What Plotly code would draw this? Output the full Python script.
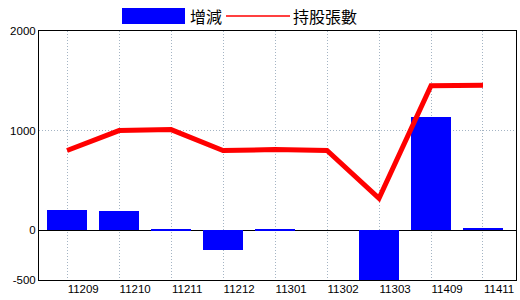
import plotly.graph_objects as go

categories = ["11209", "11210", "11211", "11212", "11301", "11302", "11303", "11409", "11411"]
change = [205, 195, 15, -200, 15, 0, -500, 1140, 25]
holdings = [800, 1000, 1010, 800, 810, 800, 320, 1450, 1455]
y_ticks = [-500, 0, 1000, 2000]

idx = list(range(len(categories)))

# plot area in pixels
L, R, T, B = 39, 516, 31, 280
W, H = 520, 300


def px(x):
    return (x - L) / (R - L)


def py(y):
    return (B - y) / (B - T)


fig = go.Figure()
fig.add_trace(go.Bar(x=idx, y=change, width=0.77, marker=dict(color="#0000FF", line=dict(width=0)),
                     name="增減", showlegend=False))
fig.add_trace(go.Scatter(x=idx, y=holdings, mode="lines", line=dict(color="#FF0000", width=5),
                         name="持股張數", showlegend=False))
# invisible trace to anchor xaxis2 (label axis)
fig.add_trace(go.Scatter(x=[idx[0]], y=[0], xaxis="x2", mode="markers", marker=dict(opacity=0),
                         showlegend=False, hoverinfo="skip"))

grid = "#a4b4c4"
xr = [-0.54, 8.635]
fig.update_layout(
    width=W, height=H,
    margin=dict(l=L, r=W - R, t=T, b=H - B),
    paper_bgcolor="white", plot_bgcolor="white",
    font=dict(family="Liberation Sans, Arial", size=11, color="black"),
    bargap=0,
    xaxis=dict(range=xr, tickvals=idx, showticklabels=False, ticks="",
               showgrid=True, gridcolor=grid, griddash="1px,2px", gridwidth=1,
               showline=True, linecolor="black", linewidth=1, mirror=True, zeroline=False),
    xaxis2=dict(range=xr, overlaying="x", side="bottom", tickvals=[i + 0.31 for i in idx],
                ticktext=categories, showgrid=False, zeroline=False, showline=False, ticks="",
                tickfont=dict(size=11.5, color="black")),
    yaxis=dict(range=[-500, 2000], tickvals=y_ticks, ticktext=[str(v) for v in y_ticks],
               showgrid=True, gridcolor=grid, griddash="1px,2px", gridwidth=1,
               zeroline=True, zerolinecolor="black", zerolinewidth=1,
               showline=True, linecolor="black", linewidth=1, mirror=True, ticks="",
               tickfont=dict(size=11.5, color="black")),
)

# manual legend
fig.add_shape(type="rect", xref="paper", yref="paper", x0=px(122), x1=px(185), y0=py(24), y1=py(8),
              fillcolor="#0000FF", line=dict(width=0))
fig.add_annotation(xref="paper", yref="paper", x=px(188), y=py(16), text="增減", showarrow=False,
                   xanchor="left", yanchor="middle", font=dict(family="Noto Sans CJK TC", size=16, color="black"))
fig.add_shape(type="line", xref="paper", yref="paper", x0=px(226), x1=px(290), y0=py(16), y1=py(16),
              line=dict(color="#FF0000", width=1.5))
fig.add_annotation(xref="paper", yref="paper", x=px(291), y=py(16), text="持股張數", showarrow=False,
                   xanchor="left", yanchor="middle", font=dict(family="Noto Sans CJK TC", size=16, color="black"))

fig.write_html("out.html")
